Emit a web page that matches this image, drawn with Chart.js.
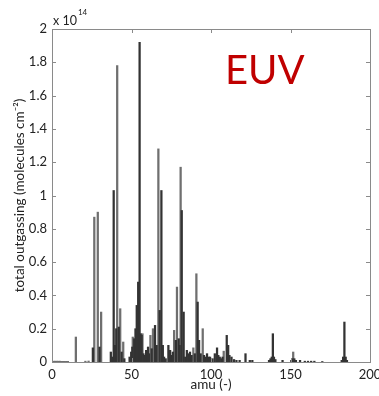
<!DOCTYPE html>
<html><head><meta charset="utf-8">
<script src="https://cdn.jsdelivr.net/npm/chart.js@4/dist/chart.umd.min.js"></script>
<style>html,body{margin:0;padding:0;background:#fff;overflow:hidden}</style>
</head><body>
<canvas id="c" width="379" height="396"></canvas>
<script>
// ---- data (values in units of 1e14 molecules cm^-2) ----
const grayAmu = [1,2,3,4,5,6,7,8,9,10,15,21,23,26.6,28.8,30.9,41,42.9,44.8,50.8,56.9,61.9,63.5,66.9,76.8,78.6,80.9,88.9,90.8,94.8,108,151.7];
const grayVal = [0.005,0.005,0.005,0.005,0.005,0.004,0.004,0.004,0.004,0.004,0.15,0.005,0.006,0.87,0.90,0.30,1.78,0.32,0.12,0.15,0.17,0.16,0.20,1.28,0.19,0.45,1.17,0.085,0.53,0.20,0.065,0.06];
const darkAmu = [25.7,29.9,37,37.8,38.8,39.6,40.4,42,43.8,45.5,48.8,49.8,50.5,51.7,52.5,53.3,54.2,55.1,55.8,56.4,57.5,58.3,59.2,60.4,61,62.7,64.8,65.8,67.7,68.8,69.7,70.5,71.5,73.2,74.3,75.2,76,77.9,79.7,80.3,81.6,82.8,83.8,84.8,85.8,86.8,87.8,89.8,91.6,92.5,93.5,95.6,96.5,97.5,98.5,99.4,101,102.4,103.8,104.6,105.5,106.5,107.3,109.9,110.8,111.6,112.9,114.5,116,118,121.7,124.4,126,136.5,137.4,138.2,138.9,139.6,140.5,145,150.5,151.2,152.4,153.4,156,159,161,163,165,170,182.2,183.1,183.9,184.7,185.5];
const darkVal = [0.085,0.09,0.06,0.03,1.03,0.10,0.20,0.21,0.06,0.02,0.03,0.06,0.09,0.14,0.20,0.34,0.48,1.92,0.17,0.16,0.05,0.04,0.07,0.09,0.05,0.08,0.22,0.10,0.31,1.03,0.10,0.03,0.02,0.10,0.07,0.04,0.06,0.13,0.14,0.10,0.91,0.30,0.03,0.07,0.05,0.06,0.04,0.05,0.36,0.13,0.05,0.04,0.03,0.05,0.03,0.03,0.02,0.05,0.085,0.04,0.03,0.02,0.03,0.16,0.10,0.04,0.03,0.015,0.01,0.01,0.05,0.01,0.01,0.01,0.02,0.03,0.17,0.03,0.015,0.01,0.01,0.02,0.02,0.01,0.01,0.005,0.005,0.005,0.005,0.003,0.01,0.03,0.24,0.03,0.01];
const xTickLabels = ['0','50','100','150','200'];
const yTickLabels = ['0','0.2','0.4','0.6','0.8','1','1.2','1.4','1.6','1.8','2'];
const exponentBase = 'x 10';
const exponentPower = '14';
const xTitle = 'amu (-)';
const yTitle = 'total outgassing (molecules cm\u207B\u00B2)';
const badgeText = 'EUV';

const FONT = 'Lato, "Open Sans", sans-serif';
const toPts = (xs, ys) => xs.map((x, i) => ({x: x, y: ys[i]}));

const frame = {
  id: 'frame',
  afterDraw(chart) {
    const {ctx, chartArea: a, scales: {x, y}} = chart;
    ctx.save();
    ctx.strokeStyle = '#8a8a8a';
    ctx.lineWidth = 1;
    ctx.strokeRect(Math.round(a.left) + 0.5, Math.round(a.top) + 0.5, Math.round(a.right - a.left), Math.round(a.bottom - a.top));
    const L = 4;
    ctx.beginPath();
    y.ticks.forEach(t => {
      const py = Math.round(y.getPixelForValue(t.value)) + 0.5;
      ctx.moveTo(a.left, py); ctx.lineTo(a.left + L, py);
      ctx.moveTo(a.right, py); ctx.lineTo(a.right - L, py);
    });
    x.ticks.forEach(t => {
      const px = Math.round(x.getPixelForValue(t.value)) + 0.5;
      ctx.moveTo(px, a.bottom); ctx.lineTo(px, a.bottom - L);
      ctx.moveTo(px, a.top); ctx.lineTo(px, a.top + L);
    });
    ctx.stroke();
    // exponent
    ctx.fillStyle = '#222';
    ctx.textBaseline = 'alphabetic';
    ctx.textAlign = 'left';
    ctx.font = '12.5px ' + FONT;
    ctx.fillText(exponentBase, a.left + 1, a.top - 4);
    const w = ctx.measureText(exponentBase).width;
    ctx.font = '8px ' + FONT;
    ctx.fillText(exponentPower, a.left + w + 2, a.top - 14);
    // badge
    ctx.fillStyle = '#c00000';
    ctx.font = '40px ' + FONT;
    ctx.fillText(badgeText, 225, 84);
    ctx.restore();
  }
};

new Chart(document.getElementById('c'), {
  type: 'bar',
  data: {
    datasets: [
      {label: 'dark', data: toPts(darkAmu, darkVal), backgroundColor: '#333333', barThickness: 1.6, grouped: false, order: 0},
      {label: 'gray', data: toPts(grayAmu, grayVal), backgroundColor: '#6f6f6f', barThickness: 1.6, grouped: false, order: 1}
    ]
  },
  options: {
    responsive: false,
    animation: false,
    devicePixelRatio: 1,
    layout: {padding: {left: 0, right: 9, top: 29, bottom: 0}},
    plugins: {legend: {display: false}, tooltip: {enabled: false}},
    scales: {
      x: {
        type: 'linear', min: 0, max: 200, offset: false,
        grid: {display: false, drawTicks: false, offset: false}, border: {display: false},
        ticks: {stepSize: 50, padding: 5, color: '#222', font: {family: FONT, size: 13}, maxRotation: 0,
          callback: (v, i) => xTickLabels[i]},
        title: {display: true, text: xTitle, color: '#222', font: {family: FONT, size: 13.5}, padding: {top: 0, bottom: 3}},
        afterFit: s => { s.height = 34; s.paddingLeft = 0; s.paddingRight = 0; }
      },
      y: {
        min: 0, max: 2,
        grid: {display: false, drawTicks: false}, border: {display: false},
        ticks: {stepSize: 0.2, padding: 5, color: '#222', font: {family: FONT, size: 13},
          callback: (v, i) => yTickLabels[i]},
        title: {display: true, text: yTitle, color: '#222', font: {family: FONT, size: 13.5}, padding: {top: 12, bottom: 0}},
        afterFit: s => { s.width = 52; s.paddingTop = 0; s.paddingBottom = 0; }
      }
    }
  },
  plugins: [frame]
});
</script>
</body></html>
